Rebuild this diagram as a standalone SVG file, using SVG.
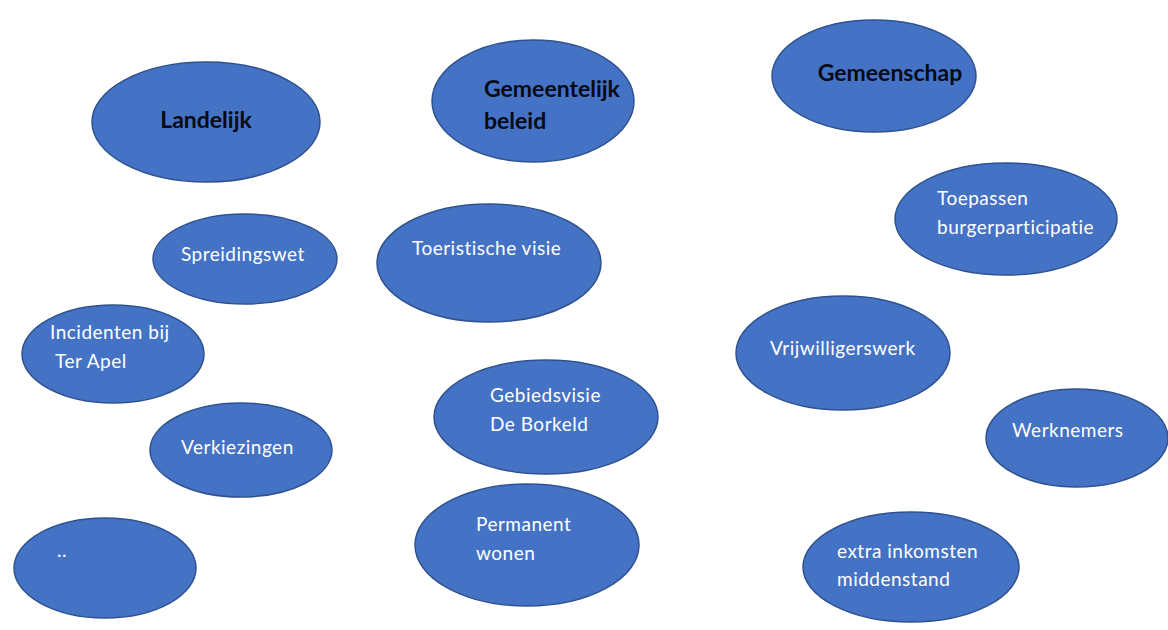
<svg xmlns="http://www.w3.org/2000/svg" width="1168" height="630" viewBox="0 0 1168 630">
<style>
.n ellipse{fill:#4472C4;stroke:#2F528F;stroke-width:1.5}
.h{font-family:Lato,"Liberation Sans",sans-serif;font-weight:bold;font-size:23px;fill:#0a0a14}
.t{font-family:Lato,"Liberation Sans",sans-serif;font-size:19px;letter-spacing:0.5px;fill:#ffffff}
.c{text-anchor:middle}
</style>
<rect width="1168" height="630" fill="#ffffff"/>
<g id="connectors"/>
<g id="landelijk" class="n"><ellipse cx="206" cy="122" rx="114" ry="60"/><text class="h c" x="206" y="128">Landelijk</text></g>
<g id="gemeentelijk" class="n"><ellipse cx="533" cy="101" rx="101" ry="61"/><text class="h" x="484" y="97">Gemeentelijk</text><text class="h" x="484" y="129">beleid</text></g>
<g id="gemeenschap" class="n"><ellipse cx="874" cy="76" rx="102" ry="56"/><text class="h c" x="890" y="81">Gemeenschap</text></g>
<g id="spreidingswet" class="n"><ellipse cx="245" cy="259" rx="92" ry="45"/><text class="t" x="181" y="261">Spreidingswet</text></g>
<g id="incidenten" class="n"><ellipse cx="113" cy="354" rx="91" ry="49"/><text class="t" x="50" y="339">Incidenten bij</text><text class="t" x="55" y="368">Ter Apel</text></g>
<g id="verkiezingen" class="n"><ellipse cx="241" cy="450" rx="91" ry="47"/><text class="t" x="181" y="454">Verkiezingen</text></g>
<g id="dots" class="n"><ellipse cx="105" cy="568" rx="91" ry="50"/><text class="t" x="57" y="557">..</text></g>
<g id="toeristische" class="n"><ellipse cx="489" cy="263" rx="112" ry="59"/><text class="t" x="412" y="255">Toeristische visie</text></g>
<g id="gebiedsvisie" class="n"><ellipse cx="546" cy="417" rx="112" ry="57"/><text class="t" x="490" y="402">Gebiedsvisie</text><text class="t" x="490" y="431">De Borkeld</text></g>
<g id="permanent" class="n"><ellipse cx="527" cy="545" rx="112" ry="61"/><text class="t" x="476" y="531">Permanent</text><text class="t" x="476" y="560">wonen</text></g>
<g id="toepassen" class="n"><ellipse cx="1006" cy="219" rx="111" ry="56"/><text class="t" x="937" y="205">Toepassen</text><text class="t" x="937" y="234">burgerparticipatie</text></g>
<g id="vrijwilligerswerk" class="n"><ellipse cx="843" cy="353" rx="107" ry="57"/><text class="t" x="770" y="355">Vrijwilligerswerk</text></g>
<g id="werknemers" class="n"><ellipse cx="1077" cy="438" rx="91" ry="49"/><text class="t" x="1012" y="437">Werknemers</text></g>
<g id="inkomsten" class="n"><ellipse cx="911" cy="567" rx="108" ry="55"/><text class="t" x="837" y="558">extra inkomsten</text><text class="t" x="837" y="586">middenstand</text></g>
</svg>
